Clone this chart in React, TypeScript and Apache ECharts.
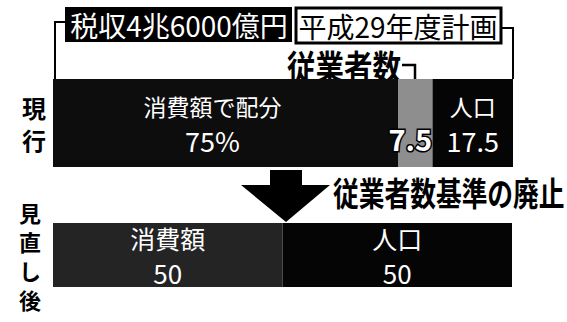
import React, { useEffect, useRef } from "react";
import * as echarts from "echarts";

const FONT = "'Noto Sans CJK JP', 'Noto Sans', sans-serif";

const rowLabels = ["現行", "見直し後"];
const segmentNames = ["消費額", "従業者数", "人口"];
const currentShares = [75, 7.5, 17.5];
const revisedShares = [50, 50];
const revisedNames = ["消費額", "人口"];
const titleTax = "税収4兆6000億円";
const titlePlan = "平成29年度計画";
const employeeNote = "従業者数";
const abolishNote = "従業者数基準の廃止";

const currentColors = ["#0d0d0d", "#8e8e8e", "#050505"];
const revisedColors = ["#242424", "#050505"];

export default function App() {
  const ref = useRef<HTMLDivElement>(null);

  useEffect(() => {
    if (!ref.current) return;
    const chart = echarts.init(ref.current, null, { renderer: "svg" });

    const topLabels = [
      { text: `{a|消費額で配分}\n{b|${currentShares[0]}%}`, offset: [-13, 0] },
      { text: `{c|${currentShares[1]}}`, offset: [-5, 15] },
      { text: `{a|${segmentNames[2]}}\n{b|${currentShares[2]}}`, offset: [0, 0] },
    ];

    const rich = {
      a: { fontSize: 23, lineHeight: 34, color: "#fff", fontFamily: FONT },
      b: { fontSize: 27, lineHeight: 34, color: "#fff", fontFamily: FONT },
      c: {
        fontSize: 29,
        color: "#fff",
        fontFamily: FONT,
        fontWeight: "bold",
        textBorderColor: "#000",
        textBorderWidth: 3,
      },
    };

    const currentSeries = segmentNames.map((name, i) => ({
      name,
      type: "bar",
      stack: "now",
      xAxisIndex: 0,
      yAxisIndex: 0,
      barWidth: "100%",
      data: [currentShares[i]],
      itemStyle: { color: currentColors[i] },
      label: {
        show: true,
        position: "inside",
        formatter: topLabels[i].text,
        offset: topLabels[i].offset,
        rich,
      },
    }));

    const revisedSeries = revisedNames.map((name, i) => ({
      name: name + " ",
      type: "bar",
      stack: "rev",
      xAxisIndex: 1,
      yAxisIndex: 1,
      barWidth: "100%",
      data: [revisedShares[i]],
      itemStyle: { color: revisedColors[i] },
      label: {
        show: true,
        position: "inside",
        formatter: `{a|${name}}\n{b|${revisedShares[i]}}`,
        rich: {
          a: { fontSize: 25, lineHeight: 34, color: "#fff", fontFamily: FONT },
          b: { fontSize: 26, lineHeight: 34, color: "#fff", fontFamily: FONT },
        },
      },
    }));

    const yAxisBase = (idx: number, fontSize: number, lineHeight: number, margin: number, pad: number) => ({
      type: "category",
      gridIndex: idx,
      data: [rowLabels[idx]],
      axisLine: { show: false },
      axisTick: { show: false },
      axisLabel: {
        margin,
        fontSize,
        lineHeight,
        fontWeight: "bold",
        color: "#000",
        fontFamily: FONT,
        padding: [0, 0, pad, 0],
        formatter: (v: string) => v.split("").join("\n"),
      },
    });

    chart.setOption({
      animation: false,
      backgroundColor: "#ffffff",
      grid: [
        { left: 53, top: 79, width: 460, height: 88 },
        { left: 53, top: 223, width: 459, height: 87 },
      ],
      xAxis: [
        { type: "value", gridIndex: 0, min: 0, max: 100, show: false },
        { type: "value", gridIndex: 1, min: 0, max: 100, show: false },
      ],
      yAxis: [yAxisBase(0, 24, 32, 7, 0), yAxisBase(1, 22, 29, 12, 18)],
      series: [...currentSeries, ...revisedSeries],
      graphic: [
        {
          type: "polyline",
          shape: { points: [[65, 22], [55, 22], [55, 79]] },
          style: { stroke: "#000", lineWidth: 2, fill: null },
        },
        {
          type: "polyline",
          shape: { points: [[502, 28], [513, 28], [513, 79]] },
          style: { stroke: "#000", lineWidth: 2, fill: null },
        },
        {
          type: "rect",
          shape: { x: 65, y: 7, width: 227, height: 35 },
          style: { fill: "#000" },
        },
        {
          type: "text",
          x: 179,
          y: 25,
          style: {
            text: titleTax,
            fill: "#fff",
            fontSize: 28,
            fontFamily: FONT,
            align: "center",
            verticalAlign: "middle",
          },
        },
        {
          type: "rect",
          shape: { x: 296, y: 8, width: 205, height: 35 },
          style: { fill: "#fff", stroke: "#000", lineWidth: 3 },
        },
        {
          type: "text",
          x: 398,
          y: 26,
          style: {
            text: titlePlan,
            fill: "#000",
            fontSize: 28,
            fontFamily: FONT,
            align: "center",
            verticalAlign: "middle",
          },
        },
        {
          type: "text",
          x: 287,
          y: 65,
          scaleX: 0.84,
          style: {
            text: employeeNote,
            fill: "#000",
            fontSize: 34,
            fontWeight: "bold",
            fontFamily: FONT,
            align: "left",
            verticalAlign: "middle",
          },
        },
        {
          type: "polyline",
          shape: { points: [[402, 65], [415, 65], [415, 80]] },
          style: { stroke: "#000", lineWidth: 2.5, fill: null },
        },
        {
          type: "polygon",
          shape: {
            points: [
              [270, 170],
              [302, 170],
              [302, 185],
              [330, 185],
              [286, 222],
              [241, 185],
              [270, 185],
            ],
          },
          style: { fill: "#000" },
        },
        {
          type: "text",
          x: 333,
          y: 192,
          scaleX: 0.78,
          style: {
            text: abolishNote,
            fill: "#000",
            fontSize: 33,
            fontWeight: "bold",
            fontFamily: FONT,
            align: "left",
            verticalAlign: "middle",
          },
        },
      ],
    });

    return () => chart.dispose();
  }, []);

  return (
    <div
      ref={ref}
      style={{ position: "fixed", left: 0, top: 0, width: 567, height: 322, background: "#fff" }}
    />
  );
}
